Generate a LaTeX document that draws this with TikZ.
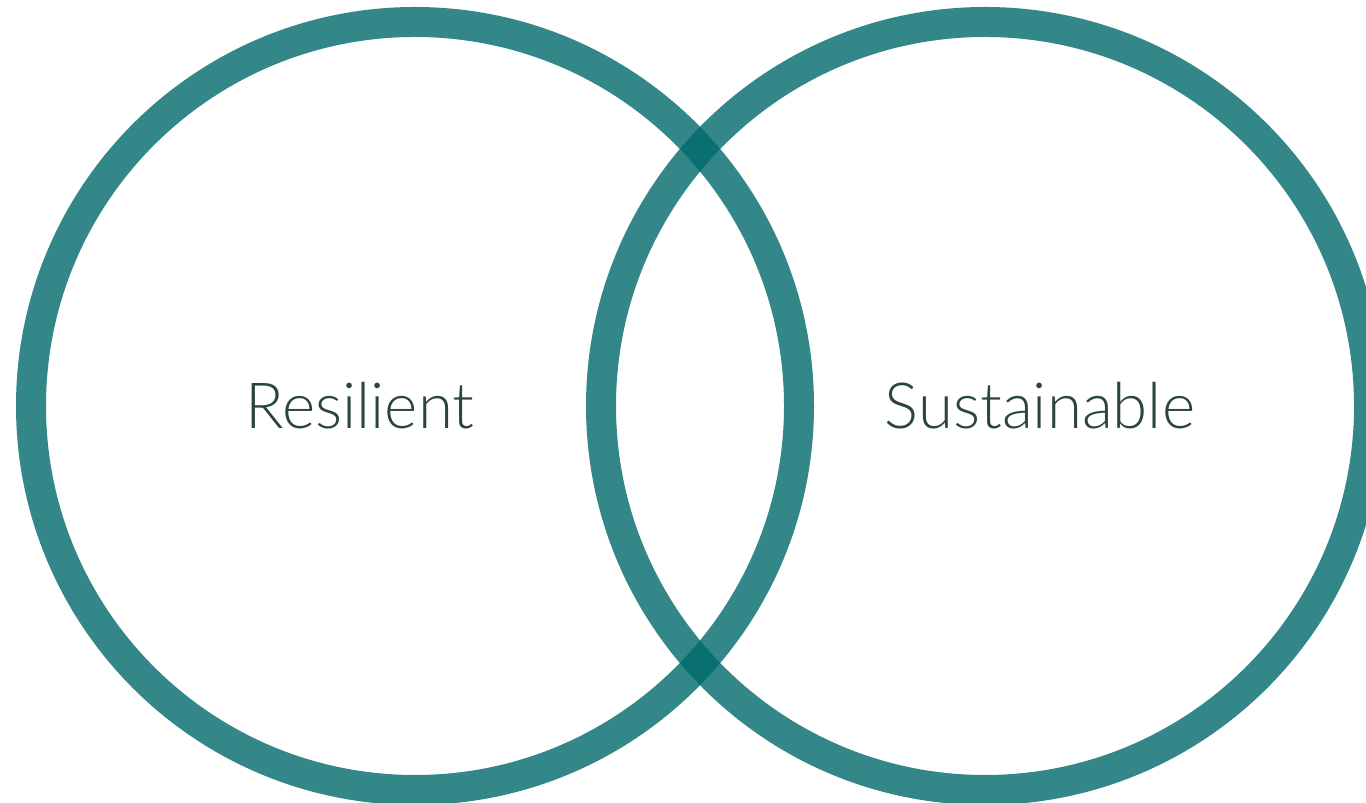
\documentclass[tikz,border=0pt]{standalone}
\usepackage{fontspec}
\usepackage{tikz}
\usetikzlibrary{positioning}
\usepackage{xcolor}

\newfontfamily\ringfont{Lato Light}
\definecolor{ringteal}{HTML}{00696B}
\definecolor{ringtext}{HTML}{2A4540}

\begin{document}
\begin{tikzpicture}[
    ring/.style={circle, draw=ringteal, draw opacity=0.8, line width=0.3cm,
    minimum size=7.68cm, inner sep=0pt},
    ringlabel/.style={text=ringtext, font=\ringfont\fontsize{18.1}{22}\selectfont}
]
\useasboundingbox (0,0) rectangle (13.66,8.03);
\clip (0,0) rectangle (13.66,8.03);

\node[ring] (resilient) at (4.15,3.97) {};
\node[ring] (sustainable) at (9.85,3.97) {};

\node[ringlabel] (reslabel) at (3.60,3.97) {Resilient};
\node[ringlabel] (suslabel) at (10.40,3.97) {Sustainable};

\end{tikzpicture}
\end{document}
